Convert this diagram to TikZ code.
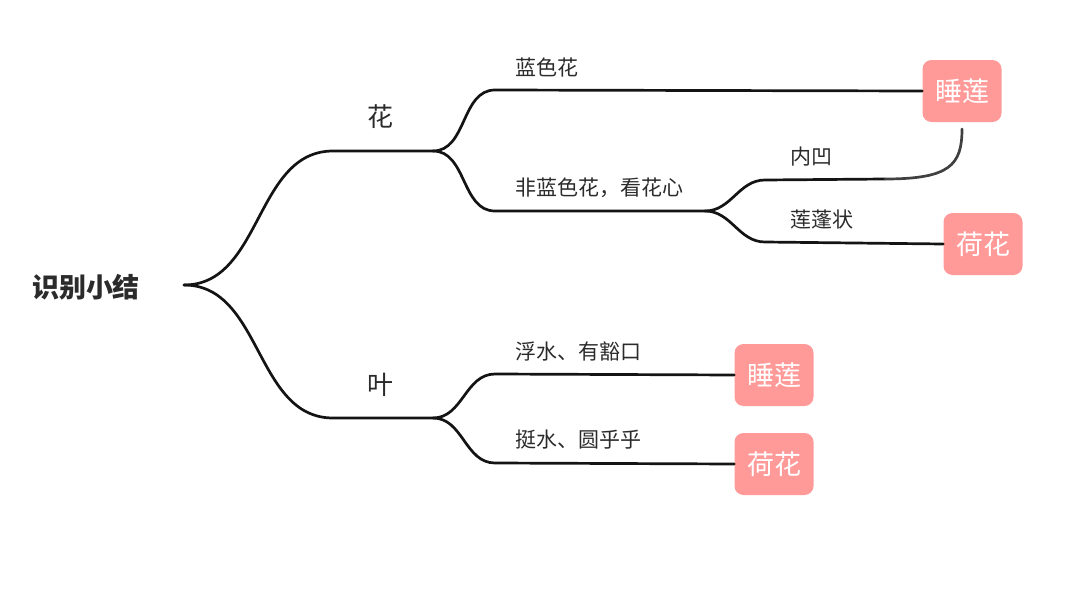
\documentclass[tikz,border=0pt]{standalone}
\usepackage{fontspec}
\newfontfamily\cjk{Noto Sans CJK SC}
\usetikzlibrary{positioning}

\definecolor{boxred}{HTML}{FF9A99}
\definecolor{txt}{HTML}{2B2B2B}
\definecolor{wire}{HTML}{141414}

\begin{document}
\begin{tikzpicture}[x=1pt,y=-1pt]

\tikzset{leaf/.style={fill=boxred,rounded corners=9pt,text=white,minimum width=79pt,minimum height=62pt,inner sep=0pt,font=\cjk\fontsize{27}{27}\selectfont}}
\tikzset{lbl/.style={anchor=west,inner sep=0pt,text=txt,font=\cjk\fontsize{21}{21}\selectfont}}
\tikzset{big/.style={inner sep=0pt,text=txt,font=\cjk\fontsize{26}{26}\selectfont}}
\tikzset{wire/.style={draw=wire,line width=2.7pt,line cap=round}}

\useasboundingbox (0,0) rectangle (1080,589);

% root
\node(root)[inner sep=0pt,text=txt,font=\cjk\bfseries\fontsize{27}{27}\selectfont] at (86,287){识别小结};
\coordinate (r) at (184,285);

% first level
\coordinate (hua-a) at (333,151);
\coordinate (hua-b) at (433,151);
\coordinate (ye-a) at (333,418);
\coordinate (ye-b) at (433,418);
\node(hua)[big] at (380,117){花};
\node(ye)[big] at (380,385){叶};

% second level
\coordinate (lan-a) at (495,90);
\coordinate (fei-a) at (495,211);
\coordinate (fei-b) at (705,211);
\coordinate (fu-a) at (495,374);
\coordinate (ting-a) at (495,463);
\node(lan)[lbl] at (515,67){蓝色花};
\node(fei)[lbl] at (515,188){非蓝色花，看花心};
\node(fu)[lbl] at (515,351){浮水、有豁口};
\node(ting)[lbl] at (515,440){挺水、圆乎乎};

% third level
\coordinate (nei-a) at (765,180);
\coordinate (nei-b) at (885,179);
\coordinate (lp-a) at (765,242);
\node(nei)[lbl] at (790,157){内凹};
\node(lp)[lbl] at (790,219){莲蓬状};

% the answers
\node(sl1)[leaf] at (962,91){睡莲};
\node(hh1)[leaf] at (983,244){荷花};
\node(sl2)[leaf] at (774,375){睡莲};
\node(hh2)[leaf] at (774,464){荷花};
\coordinate (sl1-gap) at (962,129);

% the branches
\draw[wire] (r) to[out=0,in=180] (hua-a) -- (hua-b);
\draw[wire] (r) to[out=0,in=180] (ye-a) -- (ye-b);
\draw[wire] (hua-b) to[out=0,in=180] (lan-a) -- (sl1.west);
\draw[wire] (hua-b) to[out=0,in=180] (fei-a) -- (fei-b);
\draw[wire] (fei-b) to[out=0,in=180] (nei-a) -- (nei-b);
\draw[wire,draw=txt!90] (nei-b) .. controls (950,179) and (962,165) .. (sl1-gap);
\draw[wire] (fei-b) to[out=0,in=180] (lp-a) -- (hh1.west);
\draw[wire] (ye-b) to[out=0,in=180] (fu-a) -- (sl2.west);
\draw[wire] (ye-b) to[out=0,in=180] (ting-a) -- (hh2.west);

\end{tikzpicture}
\end{document}
